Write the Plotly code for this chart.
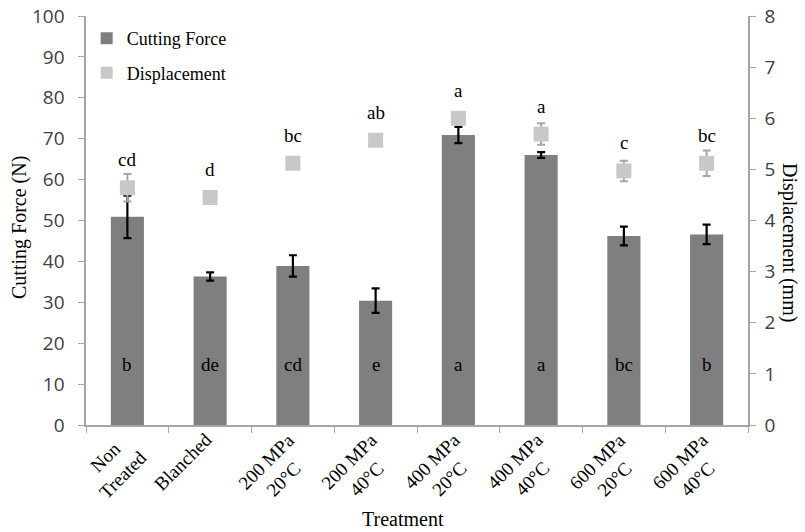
import plotly.graph_objects as go

# Treatments along the x axis (line breaks as shown under the axis)
treatments = ["Non<br>Treated", "Blanched", "200 MPa<br>20°C", "200 MPa<br>40°C",
              "400 MPa<br>20°C", "400 MPa<br>40°C", "600 MPa<br>20°C", "600 MPa<br>40°C"]

# Cutting force (N), mean and error
force = [50.9, 36.3, 38.9, 30.4, 70.9, 66.0, 46.2, 46.6]
force_err = [5.2, 1.0, 2.6, 3.0, 2.0, 0.7, 2.3, 2.4]
force_letters = ["b", "de", "cd", "e", "a", "a", "bc", "b"]

# Displacement (mm), mean and error
disp = [4.64, 4.45, 5.12, 5.57, 6.00, 5.69, 4.97, 5.12]
disp_err = [0.27, 0.05, 0.05, 0.05, 0.05, 0.21, 0.20, 0.25]
disp_letters = ["cd", "d", "bc", "ab", "a", "a", "c", "bc"]

SERIF = "Liberation Serif"
SANS = "Open Sans"
AXIS_GREY = "#a6a6a6"
LETTER_Y = 14.7  # height of the in-bar letters on the force axis
NBSP = "\u00a0"

W, H = 805, 532
L, R, T, B = 86, 57, 16, 107
pw, ph = W - L - R, H - T - B


def px_x(p):
    return (p - L) / pw


def px_y(p):
    return (H - B - p) / ph


fig = go.Figure()

fig.add_trace(go.Bar(
    x=treatments, y=force, name="Cutting Force",
    marker=dict(color="#7f7f7f", line=dict(width=0)),
    error_y=dict(type="data", array=force_err, color="black", thickness=2.2, width=4),
    legendgroup="f",
))

fig.add_trace(go.Scatter(
    x=treatments, y=disp, name="Displacement", yaxis="y2", mode="markers",
    marker=dict(symbol="square", size=15, color="#c8c8c8"),
    error_y=dict(type="data", array=disp_err, color="#a6a6a6", thickness=2, width=4),
    legendgroup="d",
))

letter_font = dict(family=SERIF, size=19, color="black")
annotations = []
for cat, letter in zip(treatments, force_letters):
    annotations.append(dict(x=cat, y=LETTER_Y, xref="x", yref="y", text=letter,
                            showarrow=False, font=letter_font))
for cat, val, letter in zip(treatments, disp, disp_letters):
    annotations.append(dict(x=cat, y=val, xref="x", yref="y2", text=letter, yshift=28,
                            showarrow=False, font=letter_font))

# slanted category labels under the axis
for cat in treatments:
    n_lines = cat.count("<br>") + 1
    box_h = n_lines * 19 * 1.3 + 2
    annotations.append(dict(
        x=cat, xref="x", y=px_y(426), yref="paper", text=cat, textangle=-45,
        xanchor="right", yanchor="top", align="center",
        xshift=-10 + 0.707 * box_h, showarrow=False, font=letter_font,
    ))

annotations += [
    dict(x=px_x(20), y=px_y(228), xref="paper", yref="paper", text="Cutting Force (N)",
         textangle=-90, xanchor="center", yanchor="middle", showarrow=False,
         font=dict(family=SERIF, size=20, color="black")),
    dict(x=px_x(790), y=px_y(242), xref="paper", yref="paper", text="Displacement (mm)",
         textangle=90, xanchor="center", yanchor="middle", showarrow=False,
         font=dict(family=SERIF, size=20, color="black")),
    dict(x=px_x(403), y=px_y(519), xref="paper", yref="paper", text="Treatment",
         xanchor="center", yanchor="middle", showarrow=False,
         font=dict(family=SERIF, size=20, color="black")),
]

fig.update_layout(
    width=W, height=H,
    margin=dict(l=L, r=R, t=T, b=B, autoexpand=False),
    paper_bgcolor="white", plot_bgcolor="white",
    bargap=0.6,
    showlegend=True,
    legend=dict(x=0.001, y=0.99, xanchor="left", yanchor="top", itemsizing="constant",
                font=dict(family=SERIF, size=18, color="black"),
                bgcolor="rgba(0,0,0,0)", tracegroupgap=8),
    xaxis=dict(
        type="category", range=[-0.5, len(treatments) - 0.5],
        showline=True, linecolor=AXIS_GREY, linewidth=1.5,
        ticks="outside", tickson="boundaries", ticklen=6, tickcolor=AXIS_GREY,
        showticklabels=False, showgrid=False, zeroline=False, automargin=False,
    ),
    yaxis=dict(
        range=[0, 100], dtick=10, showline=True, linecolor=AXIS_GREY, linewidth=1.5,
        ticks="outside", ticklen=6, tickcolor=AXIS_GREY, ticksuffix=NBSP * 2,
        tickfont=dict(family=SANS, size=19, color="#404040"),
        showgrid=False, zeroline=False, automargin=False,
    ),
    yaxis2=dict(
        range=[0, 8], dtick=1, overlaying="y", side="right",
        showline=True, linecolor=AXIS_GREY, linewidth=1.5,
        ticks="outside", ticklen=6, tickcolor=AXIS_GREY, tickprefix=NBSP,
        tickfont=dict(family=SANS, size=19, color="#404040"),
        showgrid=False, zeroline=False, automargin=False,
    ),
    annotations=annotations,
)

fig.write_html("out.html")
